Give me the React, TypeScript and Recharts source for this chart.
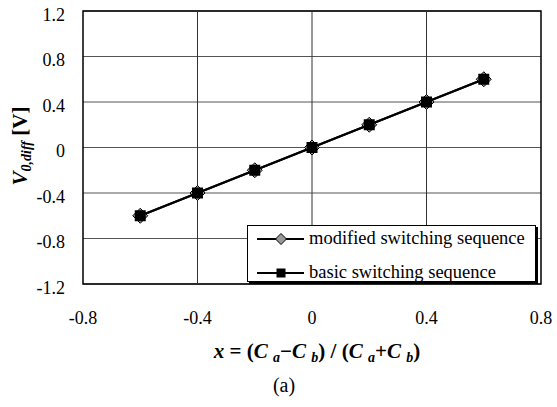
import { LineChart, Line, XAxis, YAxis, CartesianGrid, ReferenceLine, ReferenceArea } from "recharts";

const xValues = [-0.6, -0.4, -0.2, 0, 0.2, 0.4, 0.6];
const modifiedSeq = [-0.6, -0.4, -0.2, 0, 0.2, 0.4, 0.6];
const basicSeq = [-0.6, -0.4, -0.2, 0, 0.2, 0.4, 0.6];
const xTicks = [-0.8, -0.4, 0, 0.4, 0.8];
const yTicks = [-1.2, -0.8, -0.4, 0, 0.4, 0.8, 1.2];

const data = xValues.map((x, i) => ({ x, modified: modifiedSeq[i], basic: basicSeq[i] }));

const font = "Liberation Serif, DejaVu Serif, serif";

const Diamond = (props: any) => {
  const { cx, cy, half = 7.5 } = props;
  if (cx == null || cy == null) return null;
  return (
    <polygon
      points={`${cx},${cy - half} ${cx + half},${cy} ${cx},${cy + half} ${cx - half},${cy}`}
      fill="#999"
      stroke="#000"
      strokeWidth={1}
    />
  );
};

const Square = (props: any) => {
  const { cx, cy, side = 11 } = props;
  if (cx == null || cy == null) return null;
  return <rect x={cx - side / 2} y={cy - side / 2} width={side} height={side} fill="#000" />;
};

const XTick = (props: any) => {
  const { x, y, payload } = props;
  return (
    <text x={x} y={y + 40} textAnchor="middle" fontFamily={font} fontSize={18} fill="#000">
      {String(payload.value)}
    </text>
  );
};

const YTick = (props: any) => {
  const { x, y, payload } = props;
  return (
    <text x={x - 18} y={y + 9.5} textAnchor="end" fontFamily={font} fontSize={18} fill="#000">
      {String(payload.value)}
    </text>
  );
};

const LegendBox = () => (
  <div
    style={{
      position: "absolute",
      left: 247,
      top: 225,
      width: 289,
      height: 57,
      background: "#fff",
      border: "1px solid #000",
      boxShadow: "2px 2px 0 #000",
      fontFamily: font,
      fontSize: 18.5,
      boxSizing: "border-box",
    }}
  >
    <svg width={62} height={55} style={{ position: "absolute", left: 0, top: 0 }}>
      <line x1={9} y1={13} x2={56} y2={13} stroke="#000" strokeWidth={2} />
      <Diamond cx={33} cy={13} half={5.5} />
      <line x1={9} y1={47} x2={56} y2={47} stroke="#000" strokeWidth={2} />
      <Square cx={33} cy={47} side={9} />
    </svg>
    <div style={{ position: "absolute", left: 61, top: 1, lineHeight: "22px" }}>modified switching sequence</div>
    <div style={{ position: "absolute", left: 61, top: 35, lineHeight: "22px" }}>basic switching sequence</div>
  </div>
);

const YLabel = () => {
  const cy = 146;
  const cx = 27;
  return (
    <text
      x={cx}
      y={cy}
      transform={`rotate(-90 ${cx} ${cy})`}
      textAnchor="middle"
      fontFamily={font}
      fontWeight="bold"
      fontSize={21}
      fill="#000"
    >
      <tspan fontStyle="italic">V</tspan>
      <tspan fontStyle="italic" fontSize={14} dy={4}>0,diff</tspan>
      <tspan dy={-4}> [V]</tspan>
    </text>
  );
};

const XLabel = () => (
  <g fontFamily={font} fill="#000">
    <text x={317} y={358} textAnchor="middle" fontWeight="bold" fontSize={21}>
      <tspan fontStyle="italic">x</tspan>
      <tspan> = (</tspan>
      <tspan fontStyle="italic">C </tspan>
      <tspan fontStyle="italic" fontSize={14} dy={4}>a</tspan>
      <tspan dy={-4}>−</tspan>
      <tspan fontStyle="italic">C </tspan>
      <tspan fontStyle="italic" fontSize={14} dy={4}>b</tspan>
      <tspan dy={-4}>) / (</tspan>
      <tspan fontStyle="italic">C </tspan>
      <tspan fontStyle="italic" fontSize={14} dy={4}>a</tspan>
      <tspan dy={-4}>+</tspan>
      <tspan fontStyle="italic">C </tspan>
      <tspan fontStyle="italic" fontSize={14} dy={4}>b</tspan>
      <tspan dy={-4}>)</tspan>
    </text>
    <text x={284} y={392} textAnchor="middle" fontSize={20}>(a)</text>
  </g>
);

export default function App() {
  return (
    <div style={{ position: "absolute", left: 0, top: 0, width: 557, height: 407, background: "#fff" }}>
      <LineChart width={557} height={407} data={data} margin={{ top: 11, right: 16, bottom: 83, left: 0 }}>
        <CartesianGrid vertical={false} stroke="#555" strokeWidth={1} />
        <XAxis
          dataKey="x"
          type="number"
          domain={[-0.8, 0.8]}
          ticks={xTicks}
          tick={<XTick />}
          tickLine={false}
          axisLine={false}
          tickSize={0}
          tickMargin={0}
          height={40}
          label={{ content: XLabel }}
        />
        <YAxis
          type="number"
          domain={[-1.2, 1.2]}
          ticks={yTicks}
          tick={<YTick />}
          tickLine={false}
          axisLine={false}
          tickSize={0}
          tickMargin={0}
          width={83}
          label={{ content: YLabel }}
        />
        {[-0.4, 0, 0.4].map((v) => (
          <ReferenceLine key={v} x={v} stroke="#333" strokeWidth={1} />
        ))}
        <ReferenceArea x1={-0.8} x2={0.8} y1={-1.2} y2={1.2} fill="none" stroke="#000" strokeWidth={1.5} fillOpacity={0} />
        <Line dataKey="modified" stroke="#000" strokeWidth={2} dot={<Diamond />} isAnimationActive={false} />
        <Line dataKey="basic" stroke="#000" strokeWidth={2} dot={<Square />} isAnimationActive={false} />
      </LineChart>
      <LegendBox />
    </div>
  );
}
